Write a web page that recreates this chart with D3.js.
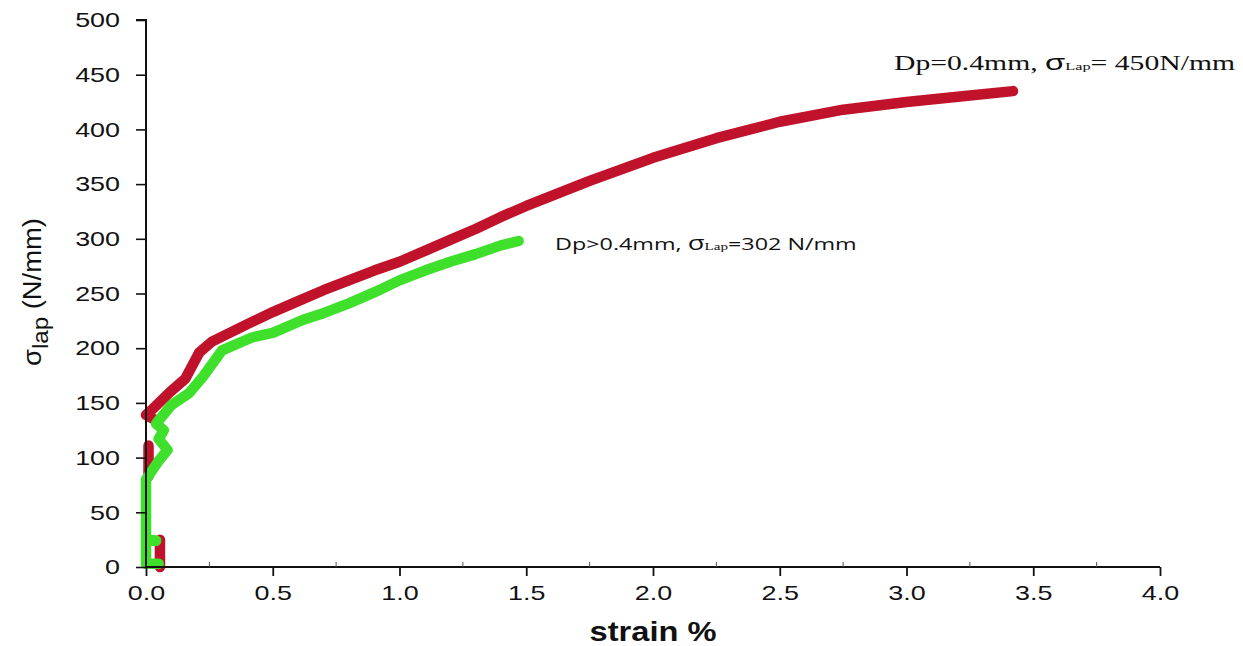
<!DOCTYPE html>
<html>
<head>
<meta charset="utf-8">
<script src="https://cdn.jsdelivr.net/npm/d3@7"></script>
<style>
  html, body { margin: 0; padding: 0; background: #fff; }
  svg { display: block; }
</style>
</head>
<body>
<svg id="chart" width="1243" height="646"></svg>
<script>
// ---- data ----
const xTicks = [0.0, 0.5, 1.0, 1.5, 2.0, 2.5, 3.0, 3.5, 4.0];
const xMinorTicks = [0.25, 0.75, 1.25, 1.75, 2.25, 2.75, 3.25, 3.75];
const yTicks = [0, 50, 100, 150, 200, 250, 300, 350, 400, 450, 500];

// Dp = 0.4 mm (red); null marks a gap in the recorded trace
const redStrain = [0.055, 0.055, null, 0.01, 0.01, null, 0.047, 0.0, 0.02, 0.095, 0.155, 0.21, 0.26, 0.33, 0.4, 0.5, 0.6, 0.7, 0.8, 0.9, 1.0, 1.1, 1.2, 1.3, 1.4, 1.5, 1.75, 2.0, 2.25, 2.5, 2.75, 3.0, 3.25, 3.42];
const redStress = [0, 25, null, 83, 111, null, 133, 139, 143, 160, 172, 196, 206, 214, 222, 233, 243, 253, 262, 271, 279, 289, 299, 309, 320, 330, 353, 374, 392, 407, 418, 425, 431, 435];

// Dp > 0.4 mm (green)
const greenStrain = [0.05, 0.0, 0.0, 0.04, 0.0, 0.0, 0.05, 0.085, 0.05, 0.07, 0.04, 0.1, 0.17, 0.225, 0.3, 0.42, 0.5, 0.62, 0.7, 0.8, 0.9, 1.0, 1.1, 1.2, 1.3, 1.4, 1.47];
const greenStress = [3, 3, 24, 24, 26, 80, 97, 107, 117, 125, 131, 148, 159, 174, 198, 210, 214, 226, 232, 241, 251, 262, 271, 279, 286, 294, 298];

const labelRed = {pre: "Dp=0.4mm, ", sub: "Lap", post: "= 450N/mm"};
const labelGreen = {pre: "Dp>0.4mm, ", sub: "Lap", post: "=302 N/mm"};

// ---- layout ----
const svg = d3.select("#chart");
const x = d3.scaleLinear().domain([0, 4]).range([146, 1160]);
const y = d3.scaleLinear().domain([0, 500]).range([567, 20]);

const font = "'Liberation Sans', Arial, sans-serif";

// helper: stretch a text element horizontally to a target width (reference text is wide)
function stretchTo(sel, target) {
  const w = sel.node().getBBox().width;
  return w > 0 ? target / w : 1;
}

// curves
const line = d3.line().defined(d => d[0] !== null && d[1] !== null)
  .x(d => x(d[0])).y(d => y(d[1])).curve(d3.curveLinear);
const red = redStrain.map((s, i) => [s, redStress[i]]);
const green = greenStrain.map((s, i) => [s, greenStress[i]]);

svg.append("path").datum(red).attr("d", line)
  .attr("fill", "none").attr("stroke", "#c0132b").attr("stroke-width", 10.5)
  .attr("stroke-linecap", "round").attr("stroke-linejoin", "round");
svg.append("path").datum(green).attr("d", line)
  .attr("fill", "none").attr("stroke", "#3fe02c").attr("stroke-width", 10.5)
  .attr("stroke-linecap", "round").attr("stroke-linejoin", "round");

// axes
const yAxis = d3.axisLeft(y).tickValues(yTicks).tickSize(10).tickPadding(16).tickFormat(d3.format("d"));
const gy = svg.append("g").attr("transform", `translate(${x(0)},0)`).call(yAxis);
gy.select(".domain").attr("stroke", "#111").attr("stroke-width", 2).attr("d", `M-10,${y(500)}H0V${y(0)}`);
gy.selectAll(".tick line").attr("stroke", "#111").attr("stroke-width", 1.6);
gy.selectAll(".tick text").attr("font-family", font).attr("font-size", 21).attr("fill", "#111")
  .each(function() {
    const t = d3.select(this);
    t.attr("textLength", this.getComputedTextLength() * 1.28).attr("lengthAdjust", "spacingAndGlyphs");
  });

const xAxis = d3.axisBottom(x).tickValues(xTicks).tickSize(9).tickPadding(9).tickFormat(d3.format(".1f"));
const gx = svg.append("g").attr("transform", `translate(0,${y(0)})`).call(xAxis);
gx.select(".domain").attr("stroke", "#111").attr("stroke-width", 2).attr("d", `M${x(0)},0H${x(4)}`);
gx.selectAll(".tick line").attr("stroke", "#111").attr("stroke-width", 1.8);
gx.selectAll(".tick text").attr("font-family", font).attr("font-size", 21).attr("fill", "#111")
  .each(function() {
    const t = d3.select(this);
    t.attr("textLength", this.getComputedTextLength() * 1.28).attr("lengthAdjust", "spacingAndGlyphs");
  });

// minor ticks (pointing inward)
svg.append("g").selectAll("line").data(xMinorTicks).join("line")
  .attr("x1", d => x(d)).attr("x2", d => x(d))
  .attr("y1", y(0)).attr("y2", y(0) - 5)
  .attr("stroke", "#555").attr("stroke-width", 1);

// axis titles
const xtG = svg.append("g");
const xt = xtG.append("text").attr("x", 0).attr("y", 0)
  .attr("text-anchor", "middle").attr("font-family", font).attr("font-size", 27)
  .attr("font-weight", "bold").attr("fill", "#111").text("strain %");
xtG.attr("transform", `translate(${x(2)},641) scale(${stretchTo(xt, 127)},1)`);

const ytG = svg.append("g");
const yt = ytG.append("text").attr("x", 0).attr("y", 0)
  .attr("text-anchor", "middle").attr("font-family", font).attr("font-size", 25).attr("fill", "#111");
yt.append("tspan").text("σ");
yt.append("tspan").attr("dy", 7).attr("font-size", 22).text("lap");
yt.append("tspan").attr("dy", -7).text(" (N/mm)");
ytG.attr("transform", `translate(41,292) rotate(-90) scale(${stretchTo(yt, 148)},1)`);

// annotations
const a1G = svg.append("g");
const a1 = a1G.append("text").attr("x", 0).attr("y", 0)
  .attr("font-family", "'Liberation Serif', 'Times New Roman', serif").attr("font-size", 20).attr("fill", "#111");
a1.append("tspan").text(labelRed.pre);
a1.append("tspan").attr("font-family", font).attr("font-size", 22).text("σ");
a1.append("tspan").attr("font-size", 11).text(labelRed.sub);
a1.append("tspan").text(labelRed.post);
a1G.attr("transform", `translate(894,70) scale(${stretchTo(a1, 342)},1)`);

const a2G = svg.append("g");
const a2 = a2G.append("text").attr("x", 0).attr("y", 0)
  .attr("font-family", "'Open Sans', 'Liberation Sans', sans-serif").attr("font-size", 17).attr("fill", "#111");
a2.append("tspan").text(labelGreen.pre);
a2.append("tspan").attr("font-size", 20).text("σ");
a2.append("tspan").attr("font-size", 11).attr("font-family", "'Liberation Serif', serif").text(labelGreen.sub);
a2.append("tspan").text(labelGreen.post);
a2G.attr("transform", `translate(555,250) scale(${stretchTo(a2, 302)},1)`);
</script>
</body>
</html>
